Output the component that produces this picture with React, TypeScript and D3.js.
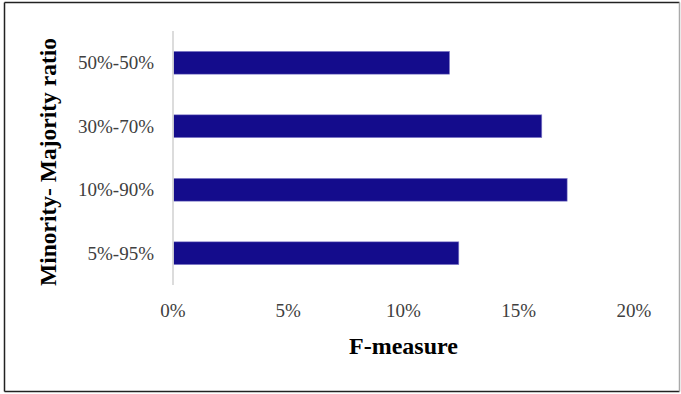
import React from "react";
import * as d3 from "d3";

const categories = ["50%-50%", "30%-70%", "10%-90%", "5%-95%"];
const fMeasure = [0.12, 0.16, 0.171, 0.124];
const xTicks = [0, 0.05, 0.1, 0.15, 0.2];
const xTitle = "F-measure";
const yTitle = "Minority- Majority ratio";

const W = 681;
const H = 394;
const FONT = "'Liberation Serif', 'Times New Roman', serif";

export default function App() {
  const x = d3.scaleLinear().domain([0, 0.2]).range([173, 634]);
  const y = d3
    .scaleBand<string>()
    .domain(categories)
    .range([31, 285])
    .paddingInner(0.64)
    .paddingOuter(0.32);
  const fmt = d3.format(".0%");

  return (
    <svg
      width={W}
      height={H}
      style={{ position: "absolute", left: 0, top: 0, background: "#fff" }}
    >
      <rect x={0} y={0} width={W} height={H} fill="#fff" />
      {/* border */}
      <line x1={4.5} y1={2.5} x2={679.5} y2={2.5} stroke="#222" strokeWidth={1.5} />
      <line x1={4.5} y1={2.5} x2={4.5} y2={391.5} stroke="#222" strokeWidth={1.5} />
      <line x1={4.5} y1={391.5} x2={679.5} y2={391.5} stroke="#222" strokeWidth={1.5} />
      <line x1={679.5} y1={2.5} x2={679.5} y2={391.5} stroke="#aaa" strokeWidth={1.5} />

      {/* bars */}
      {categories.map((c, i) => (
        <rect
          key={c}
          x={x(0)}
          y={y(c)!}
          width={x(fMeasure[i]) - x(0)}
          height={y.bandwidth()}
          fill="#140c8c"
          stroke="#8f8ad0"
          strokeWidth={0.6}
        />
      ))}

      {/* y axis line */}
      <line x1={x(0)} y1={31} x2={x(0)} y2={285} stroke="#d9d9d9" strokeWidth={1.8} />

      {/* category labels */}
      {categories.map((c) => (
        <text
          key={c}
          x={154}
          y={y(c)! + y.bandwidth() / 2}
          dy="0.34em"
          textAnchor="end"
          fontFamily={FONT}
          fontSize={19}
          fill="#404040"
        >
          {c}
        </text>
      ))}

      {/* x tick labels */}
      {xTicks.map((t) => (
        <text
          key={t}
          x={x(t)}
          y={316.5}
          textAnchor="middle"
          fontFamily={FONT}
          fontSize={19}
          fill="#404040"
        >
          {fmt(t)}
        </text>
      ))}

      {/* x title */}
      <text
        x={(x(0) + x(0.2)) / 2}
        y={353.5}
        textAnchor="middle"
        fontFamily={FONT}
        fontSize={24}
        fontWeight="bold"
        fill="#000"
      >
        {xTitle}
      </text>

      {/* y title */}
      <text
        transform={`translate(56,162) rotate(-90)`}
        textAnchor="middle"
        fontFamily={FONT}
        fontSize={23.5}
        fontWeight="bold"
        fill="#000"
      >
        {yTitle}
      </text>
    </svg>
  );
}
